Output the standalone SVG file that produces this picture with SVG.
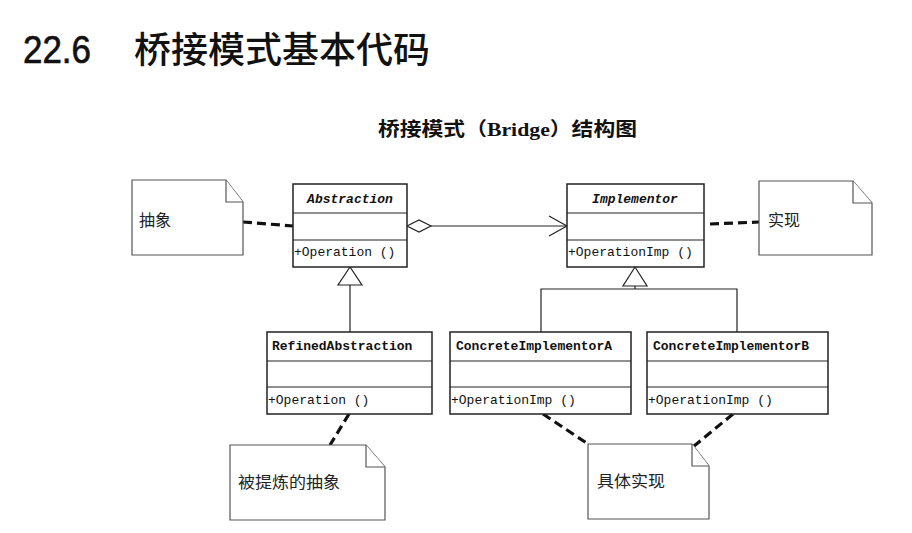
<svg xmlns="http://www.w3.org/2000/svg" width="912" height="533" viewBox="0 0 912 533">
<defs>
<style>
.box{fill:#fff;stroke:#222;stroke-width:1.5}
.ln{stroke:#222;stroke-width:1.2;fill:none}
.dash{stroke:#111;stroke-width:3.2;stroke-dasharray:9,5;fill:none}
.cls{font-family:"Liberation Mono",monospace;font-size:13px;font-weight:bold;fill:#111}
.op{font-family:"Liberation Mono",monospace;font-size:13px;fill:#111}
.note{fill:#fff;stroke:#555;stroke-width:1.2}
.nt{font-family:"Noto Sans CJK SC",sans-serif;font-size:16px;fill:#222}
</style>
</defs>
<rect width="912" height="533" fill="#fff"/>
<text x="23" y="63" font-family="'Liberation Sans',sans-serif" font-size="39" fill="#111" stroke="#111" stroke-width="0.7" textLength="68" lengthAdjust="spacingAndGlyphs">22.6</text>
<text x="134" y="63" font-family="'Noto Sans CJK SC',sans-serif" font-size="36" font-weight="500" fill="#111" textLength="296" lengthAdjust="spacingAndGlyphs">桥接模式基本代码</text>
<text x="378" y="136" font-family="'Noto Sans CJK SC',sans-serif" font-size="19" font-weight="bold" fill="#111" textLength="259" lengthAdjust="spacingAndGlyphs">桥接模式（<tspan font-family="'Liberation Serif',serif" font-weight="bold">Bridge</tspan>）结构图</text>

<g id="connectors">
<path class="dash" d="M243,222 L293,226"/>
<path class="dash" d="M710,224 L759,222"/>
<path class="dash" d="M349,414 L330,445"/>
<path class="dash" d="M543,414 L588,444"/>
<path class="dash" d="M733,414 L694,446"/>
<path class="ln" d="M407,226 L419,220 L431,226 L419,232 Z" fill="#fff"/>
<path class="ln" d="M431,226 L567,226"/>
<path class="ln" d="M549,216 L567,226 L549,236"/>
<path class="ln" d="M350,267 L338,285 L362,285 Z" fill="#fff"/>
<path class="ln" d="M350,285 L350,332"/>
<path class="ln" d="M635,267 L623,286 L647,286 Z" fill="#fff"/>
<path class="ln" d="M635,286 L635,289 M541,332 L541,289 L737,289 L737,332"/>
</g>

<g id="abstraction">
<rect class="box" x="293" y="184" width="114" height="83"/>
<path class="ln" d="M293,213 H407 M293,240 H407"/>
<text class="cls" x="350" y="203" text-anchor="middle" font-style="italic">Abstraction</text>
<text class="op" x="294" y="256">+Operation ()</text>
</g>

<g id="implementor">
<rect class="box" x="567" y="184" width="137" height="83"/>
<path class="ln" d="M567,213 H704 M567,240 H704"/>
<text class="cls" x="635" y="203" text-anchor="middle" font-style="italic">Implementor</text>
<text class="op" x="568" y="256">+OperationImp ()</text>
</g>

<g id="refined">
<rect class="box" x="267" y="332" width="165" height="82"/>
<path class="ln" d="M267,361 H432 M267,387 H432"/>
<text class="cls" x="272" y="350">RefinedAbstraction</text>
<text class="op" x="268" y="404">+Operation ()</text>
</g>

<g id="concreteA">
<rect class="box" x="450" y="332" width="181" height="82"/>
<path class="ln" d="M450,361 H631 M450,387 H631"/>
<text class="cls" x="456" y="350">ConcreteImplementorA</text>
<text class="op" x="451" y="404">+OperationImp ()</text>
</g>

<g id="concreteB">
<rect class="box" x="647" y="332" width="181" height="82"/>
<path class="ln" d="M647,361 H828 M647,387 H828"/>
<text class="cls" x="653" y="350">ConcreteImplementorB</text>
<text class="op" x="648" y="404">+OperationImp ()</text>
</g>

<g id="note-abstract">
<path class="note" d="M132,180 H226 L243,202 V255 H132 Z"/>
<path class="note" d="M226,180 V202 H243" fill="none"/>
<text class="nt" x="139" y="226">抽象</text>
</g>

<g id="note-impl">
<path class="note" d="M759,181 H853 L872,203 V255 H759 Z"/>
<path class="note" d="M853,181 V203 H872" fill="none"/>
<text class="nt" x="768" y="226">实现</text>
</g>

<g id="note-refined">
<path class="note" d="M230,445 H366 L385,467 V520 H230 Z"/>
<path class="note" d="M366,445 V467 H385" fill="none"/>
<text class="nt" x="238" y="488" textLength="102" lengthAdjust="spacingAndGlyphs">被提炼的抽象</text>
</g>

<g id="note-concrete">
<path class="note" d="M588,444 H692 L709,466 V519 H588 Z"/>
<path class="note" d="M692,444 V466 H709" fill="none"/>
<text class="nt" x="597" y="487" textLength="68" lengthAdjust="spacingAndGlyphs">具体实现</text>
</g>
</svg>
